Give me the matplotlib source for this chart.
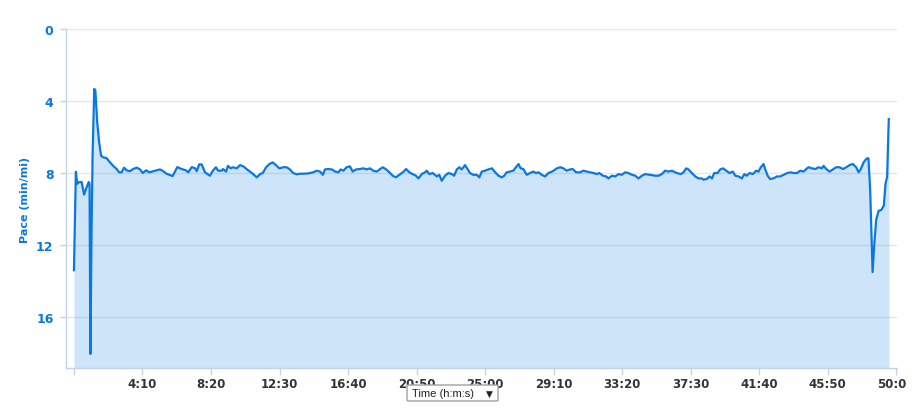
import matplotlib
matplotlib.use("Agg")
import matplotlib.pyplot as plt
from matplotlib.patches import FancyBboxPatch
from matplotlib.transforms import Bbox, TransformedBbox

# elapsed time (s) and pace (min/mi)
time_s = [0, 7, 12, 19, 28, 37, 46, 54, 57, 60, 64, 68, 74, 78, 85, 92, 99, 107, 119, 131,
          143, 156, 165, 174, 183, 192, 204, 216, 229, 241, 251, 263, 275, 289, 302, 314, 326, 338, 360, 377,
          393, 409, 417, 430, 442, 448, 457, 466, 478, 496, 507, 518, 526, 539, 544, 555, 562, 572, 580, 594,
          606, 618, 630, 642, 654, 667, 679, 689, 701, 713, 725, 737, 749, 764, 776, 788, 800, 813, 825, 837,
          855, 873, 886, 898, 908, 916, 928, 941, 953, 965, 973, 983, 995, 1007, 1017, 1029, 1044, 1056, 1068, 1080,
          1092, 1105, 1117, 1127, 1139, 1151, 1163, 1175, 1187, 1200, 1212, 1224, 1236, 1248, 1257, 1269, 1281, 1287, 1297, 1309,
          1324, 1333, 1342, 1354, 1366, 1379, 1387, 1397, 1406, 1415, 1427, 1436, 1445, 1457, 1470, 1479, 1488, 1500, 1512, 1525,
          1537, 1549, 1561, 1570, 1579, 1591, 1603, 1613, 1622, 1630, 1640, 1652, 1664, 1676, 1686, 1695, 1707, 1719, 1731, 1744,
          1750, 1762, 1774, 1786, 1798, 1810, 1820, 1832, 1847, 1859, 1871, 1883, 1895, 1908, 1917, 1930, 1942, 1950, 1963, 1975,
          1987, 1999, 2011, 2023, 2036, 2048, 2060, 2072, 2084, 2102, 2121, 2133, 2145, 2157, 2169, 2182, 2188, 2200, 2214, 2224,
          2234, 2242, 2255, 2267, 2279, 2291, 2297, 2309, 2319, 2328, 2336, 2348, 2358, 2368, 2380, 2392, 2404, 2413, 2425, 2437,
          2446, 2455, 2465, 2477, 2489, 2498, 2506, 2516, 2522, 2531, 2540, 2552, 2565, 2577, 2589, 2603, 2616, 2625, 2638, 2650,
          2662, 2672, 2680, 2693, 2705, 2717, 2729, 2735, 2745, 2757, 2769, 2781, 2793, 2806, 2818, 2830, 2842, 2854, 2863, 2871,
          2881, 2891, 2897, 2899, 2905, 2914, 2920, 2927, 2936, 2946, 2955, 2961, 2967, 2973]
pace = [13.4, 7.93, 8.6, 8.5, 8.5, 9.2, 8.8, 8.5, 8.6, 18.05, 11.5, 7.04, 3.33, 3.4, 5.2, 6.3, 7.04, 7.13, 7.17, 7.4,
        7.6, 7.78, 7.96, 7.96, 7.7, 7.85, 7.9, 7.78, 7.7, 7.8, 8.0, 7.85, 7.96, 7.9, 7.85, 7.8, 7.9, 8.04, 8.17, 7.67,
        7.78, 7.85, 7.96, 7.67, 7.74, 7.9, 7.52, 7.52, 7.96, 8.15, 7.87, 7.68, 7.87, 7.87, 7.78, 7.92, 7.6, 7.74, 7.68, 7.74,
        7.56, 7.63, 7.78, 7.92, 8.06, 8.24, 8.06, 8.0, 7.68, 7.5, 7.41, 7.56, 7.74, 7.68, 7.68, 7.8, 8.0, 8.07, 8.04, 8.04,
        8.02, 7.96, 7.87, 7.92, 8.1, 7.8, 7.78, 7.8, 7.92, 7.96, 7.8, 7.87, 7.68, 7.63, 7.92, 7.8, 7.78, 7.74, 7.8, 7.74,
        7.87, 7.92, 7.78, 7.68, 7.8, 7.96, 8.15, 8.24, 8.1, 7.96, 7.78, 7.96, 8.06, 8.15, 8.3, 8.06, 7.96, 7.87, 8.06, 8.0,
        8.19, 8.1, 8.43, 8.15, 8.0, 8.06, 8.15, 7.8, 7.68, 7.8, 7.56, 7.78, 8.0, 8.1, 8.1, 8.24, 7.92, 7.87, 7.8, 7.74,
        7.96, 8.15, 8.24, 8.15, 7.96, 7.92, 7.87, 7.68, 7.5, 7.74, 7.78, 8.1, 8.0, 7.92, 8.0, 7.96, 8.1, 8.19, 8.0, 7.92,
        7.87, 7.74, 7.68, 7.74, 7.87, 7.8, 7.78, 7.96, 7.96, 7.87, 7.92, 7.96, 8.0, 8.06, 8.0, 8.15, 8.19, 8.3, 8.15, 8.19,
        8.06, 8.1, 7.96, 8.0, 8.1, 8.15, 8.3, 8.15, 8.06, 8.1, 8.15, 8.15, 8.06, 7.87, 7.92, 7.87, 7.92, 8.0, 8.06, 7.96,
        7.74, 7.8, 8.0, 8.19, 8.3, 8.3, 8.37, 8.33, 8.19, 8.3, 8.0, 8.0, 7.8, 7.74, 7.87, 8.0, 7.92, 8.15, 8.19, 8.3,
        8.06, 8.15, 8.0, 8.06, 7.87, 7.92, 7.68, 7.5, 7.78, 8.15, 8.33, 8.3, 8.19, 8.19, 8.1, 8.0, 7.96, 8.0, 8.0, 7.87,
        7.92, 7.78, 7.68, 7.74, 7.78, 7.68, 7.74, 7.6, 7.78, 7.92, 7.8, 7.68, 7.68, 7.78, 7.68, 7.56, 7.5, 7.68, 7.96, 7.78,
        7.41, 7.22, 7.17, 7.22, 8.9, 13.5, 12.0, 10.6, 10.1, 10.05, 9.8, 8.6, 8.2, 5.0]

x_ticks = [0, 250, 500, 750, 1000, 1250, 1500, 1750, 2000, 2250, 2500, 2750, 3000]
x_labels = ["", "4:10", "8:20", "12:30", "16:40", "20:50", "25:00", "29:10", "33:20",
            "37:30", "41:40", "45:50", "50:00"]
y_ticks = [0, 4, 8, 12, 16]

BLUE = "#0a78e2"
y_bottom = 18.83

fig = plt.figure(figsize=(9.23, 4.10), dpi=100)
ax = fig.add_axes([66 / 923, 1 - 369 / 410, 831 / 923, 339 / 410])

ax.fill_between(time_s, pace, y_bottom, color=BLUE, alpha=0.2, linewidth=0, zorder=2)
ax.plot(time_s, pace, color=BLUE, linewidth=1.6, zorder=3, solid_joinstyle="round")

ax.set_xlim(-29, 3003)
ax.set_ylim(y_bottom, 0)
ax.set_yticks(y_ticks)
ax.set_xticks(x_ticks)
ax.set_xticklabels(x_labels)

ax.grid(axis="y", color="#e6e6e6", linewidth=1, zorder=1)
ax.set_axisbelow(True)
for s in ["top", "right"]:
    ax.spines[s].set_visible(False)
for s in ["left", "bottom"]:
    ax.spines[s].set_color("#c3d3e3")
    ax.spines[s].set_linewidth(1)

ax.tick_params(axis="y", length=4, width=1, color="#c3d3e3", pad=5,
               labelcolor=BLUE, labelsize=9)
ax.tick_params(axis="x", length=5, width=1, color="#c3d3e3", pad=1.5,
               labelcolor="#333333", labelsize=8.5)
for lbl in ax.get_yticklabels() + ax.get_xticklabels():
    lbl.set_fontweight("bold")

ax.set_ylabel("Pace (min/mi)", color=BLUE, fontsize=8, fontweight="bold")
ax.yaxis.set_label_coords((30 - 66) / 831, 0.5)

# clip last x label at the figure edge like the reference
fig.canvas.draw()
last = ax.get_xticklabels()[-1]
last.set_clip_box(TransformedBbox(Bbox([[0, 0], [906 / 923, 1]]), fig.transFigure))
last.set_clip_on(True)

# "Time (h:m:s)" selector box
box = FancyBboxPatch((407 / 923, 1 - 402 / 410), 91 / 923, 16 / 410,
                     boxstyle="round,pad=0,rounding_size=0.002",
                     transform=fig.transFigure, facecolor="white",
                     edgecolor="#a0a0a0", linewidth=1)
fig.patches.append(box)
fig.text(412 / 923, 1 - 394 / 410, "Time (h:m:s)", fontsize=8, color="#222222",
         family=["Liberation Sans", "DejaVu Sans"], va="center", ha="left")
fig.text(489 / 923, 1 - 394 / 410, "\u25bc", fontsize=6.5, color="#222222",
         family=["DejaVu Sans"], va="center", ha="center")

fig.savefig("out.png", dpi=100)
